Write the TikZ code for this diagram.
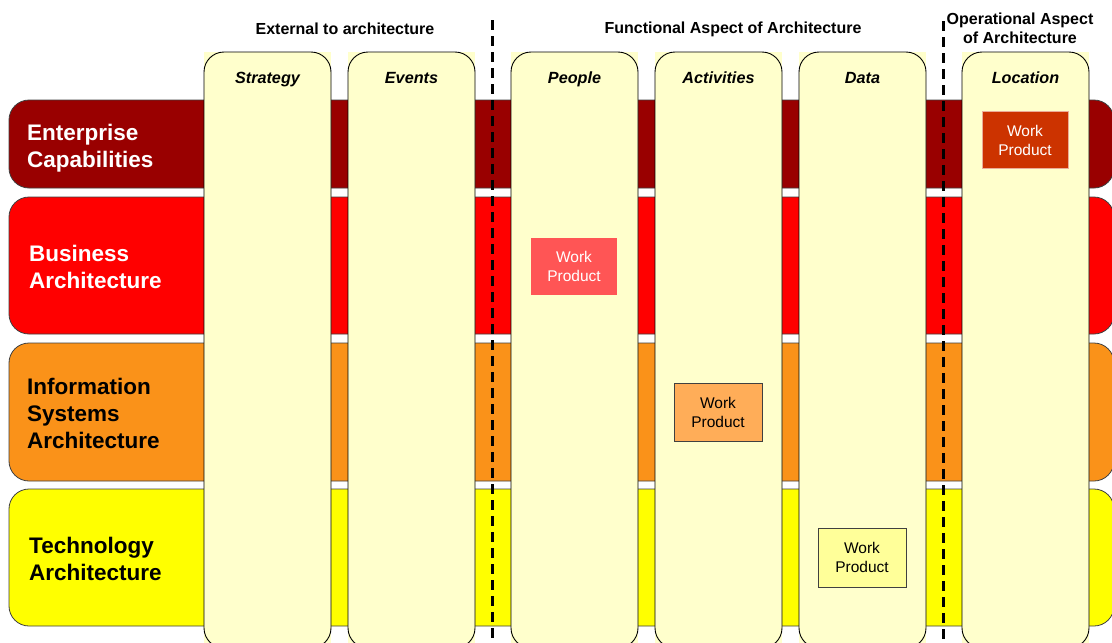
\documentclass[tikz,border=0pt]{standalone}
\usepackage{fontspec}
\setmainfont{Liberation Sans}
\definecolor{entcol}{HTML}{990000}
\definecolor{buscol}{HTML}{FF0000}
\definecolor{iscol}{HTML}{FA9219}
\definecolor{techcol}{HTML}{FFFF00}
\definecolor{colfill}{HTML}{FFFFCC}
\definecolor{wploc}{HTML}{CC3300}
\definecolor{wppeople}{HTML}{FF5555}
\definecolor{wpact}{HTML}{FFAD58}
\definecolor{wpdata}{HTML}{FFFF99}
\begin{document}
\begin{tikzpicture}[x=1pt,y=-1pt,
  layer/.style={draw=black!75, line width=0.8pt, rounded corners=20pt},
  rowlabel/.style={anchor=west, align=left, inner sep=0pt, font=\fontsize{22.5}{27}\selectfont\bfseries},
  colbox/.style={draw=black, line width=0.9pt, fill=colfill, rounded corners=20pt},
  collabel/.style={anchor=base, inner sep=0pt, font=\fontsize{16.2}{18}\selectfont\bfseries\itshape},
  header/.style={inner sep=0pt, align=center, font=\fontsize{16}{19}\selectfont\bfseries},
  wp/.style={inner sep=0pt, align=center, font=\fontsize{15.5}{19}\selectfont},
  divider/.style={line width=3pt, dash pattern=on 10pt off 6pt}
]
\useasboundingbox (0,0) rectangle (1112,643);
\clip (0,0) rectangle (1112,643);
\fill[white] (0,0) rectangle (1112,643);

% horizontal architecture layers
\draw[layer, fill=entcol]  (9,100) rectangle (1114,188);
\draw[layer, fill=buscol]  (9,197) rectangle (1114,334);
\draw[layer, fill=iscol]   (9,343) rectangle (1114,481);
\draw[layer, fill=techcol] (9,489) rectangle (1114,626);

\node[rowlabel, text=white] (lent) at (27,148) {Enterprise\\Capabilities};
\node[rowlabel, text=white] (lbus) at (29,267) {Business\\Architecture};
\node[rowlabel] (lis) at (27,413) {Information\\Systems\\Architecture};
\node[rowlabel] (ltech) at (29,559) {Technology\\Architecture};

% vertical aspect columns
\foreach \x/\name/\txt in {204/strategy/Strategy, 348/events/Events, 511/people/People,
                           655/activities/Activities, 799/data/Data, 962/location/Location} {
  \fill[colfill] (\x,52) rectangle ++(127,596);
  \draw[colbox] (\x,52) rectangle ++(127,596);
  \node[collabel] (\name) at (\x+63.5,83) {\txt};
}

% aspect group headings
\node[header] (hext) at (345,29) {External to architecture};
\node[header] (hfun) at (733,29) {Functional Aspect of Architecture};
\node[header] (hop) at (1020,28) {Operational Aspect\\of Architecture};

% group dividers
\coordinate (d1t) at (492,20);
\coordinate (d1b) at (492,650);
\coordinate (d2t) at (943,21);
\coordinate (d2b) at (943,650);
\draw[divider] (d1t) -- (d1b);
\draw[divider] (d2t) -- (d2b);

% work products
\node[wp, fill=wploc, draw=wploc!40, line width=0.6pt, text=white,
      minimum width=86pt, minimum height=57pt] (wp1) at (1025,140) {Work\\Product};
\node[wp, fill=wppeople, text=white,
      minimum width=86pt, minimum height=57pt] (wp2) at (574,266.5) {Work\\Product};
\node[wp, fill=wpact, draw=black!75, line width=0.7pt,
      minimum width=88pt, minimum height=58pt] (wp3) at (718,412) {Work\\Product};
\node[wp, fill=wpdata, draw=black!75, line width=0.7pt,
      minimum width=88pt, minimum height=59pt] (wp4) at (862,557.5) {Work\\Product};
\end{tikzpicture}
\end{document}
